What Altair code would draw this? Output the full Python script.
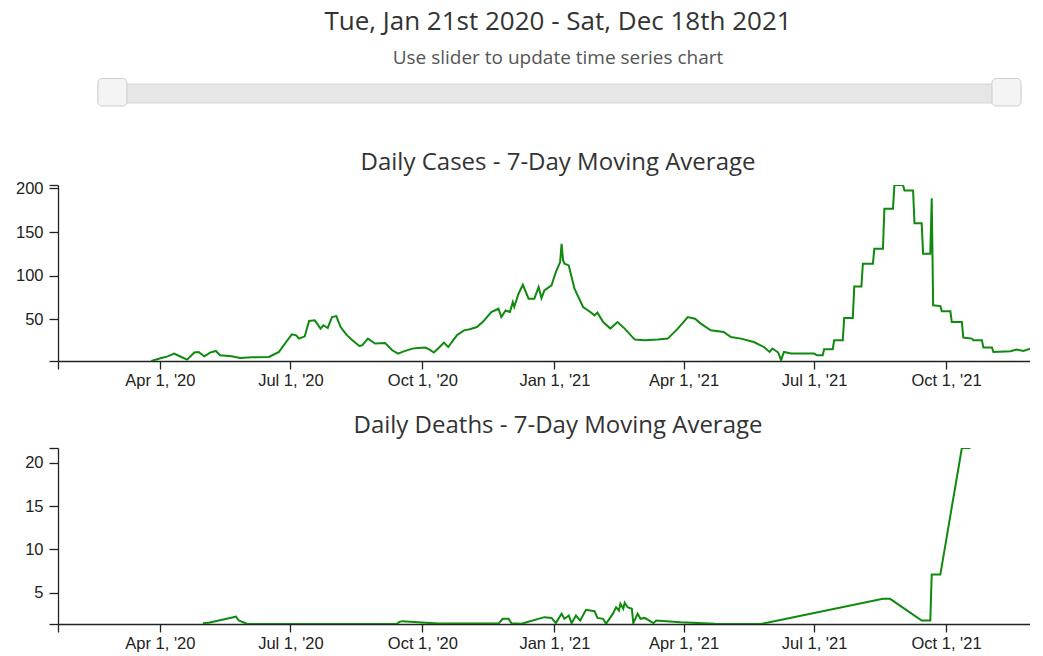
import altair as alt
import pandas as pd

# ---------------- data ----------------
START = "2020-01-21"
END = "2021-12-18"
VISIBLE_END = "2021-11-28T12:00:00"   # last date visible inside the 1043px window

# days since 2020-01-21, 7-day moving average of daily cases
cases_day = [65, 68, 72, 76, 81, 86, 90, 95, 98, 102, 106, 110, 113, 121, 127, 135, 147, 154,
             159, 163, 166, 168, 172, 175, 179, 183, 185, 188, 191, 194, 197, 201, 205, 210,
             212, 216, 221, 228, 233, 237, 241, 247, 251, 256, 259, 262, 266, 269, 272, 278,
             283, 287, 292, 296, 302, 307, 309, 312, 315, 317, 318, 321, 324, 328, 332, 335,
             337, 339, 344, 347, 350, 351, 352, 353, 356, 360, 366, 371, 374, 376, 380, 385,
             390, 395, 402, 409, 418, 425, 432, 439, 444, 448, 455, 464, 469, 476, 485, 492,
             496, 498, 502, 504, 506, 511, 520, 527, 529, 533, 534, 540, 541, 547, 548, 554,
             555, 560, 561, 568, 569, 575, 576, 582, 583, 589, 590, 596, 597, 602, 603, 608,
             609, 610, 615, 616, 622, 623, 630, 631, 637, 638, 644, 645, 651, 652, 664, 668,
             673, 678, 681, 685, 697]
cases_val = [2.0, 3.5, 5.5, 7, 10.5, 6.6, 3.6, 11.7, 12.4, 7.4, 11.7, 13.5, 8.6, 7.4, 5.5, 6.3,
             6.7, 12.4, 23.8, 32.6, 31.5, 27.7, 30.3, 47.9, 48.7, 39.2, 43, 39.9, 52.5, 53.6,
             41, 32.3, 26, 19.3, 20, 27.7, 22, 22.7, 14.3, 10.5, 13, 16.2, 17, 17.4, 15, 11.7,
             18, 23.1, 18.1, 31.5, 37.2, 38.4, 41, 46.7, 58.2, 62, 52.5, 60, 58.2, 69.6, 64,
             79.2, 89.5, 73.5, 73.5, 86.8, 74.2, 83, 88.8, 104, 115.5, 136.5, 118, 113.6,
             111.7, 85, 64, 58.2, 54.4, 57.5, 46.7, 39.2, 46.7, 39.2, 26.6, 25.8, 26.6, 27.7,
             39.2, 52.5, 50.6, 44.9, 37.2, 35.3, 29.6, 27.7, 23.8, 18.1, 12.4, 16.3, 11.7, 3,
             12.4, 10.5, 10.5, 10.5, 8.6, 8.6, 15.5, 15.5, 25.8, 25.8, 51.3, 51.3, 87.6, 87.6,
             113.6, 113.6, 130.8, 130.8, 176.6, 176.6, 204, 204, 197.6, 197.6, 160, 160, 125,
             125, 188.8, 65.9, 65, 59, 59, 46.7, 46.7, 28.9, 27.7, 25.8, 25.8, 17.4, 17.4,
             12.4, 13.2, 15.1, 13.5, 16.3, 13.5, 10.5, 10]

# days since 2020-01-21, 7-day moving average of daily deaths
deaths_day = [101, 105, 123, 124, 126, 132, 236, 238, 240, 265, 307, 310, 314, 316, 323, 339,
              344, 347, 351, 353, 356, 358, 361, 364, 368, 374, 376, 380, 382, 387, 389, 391,
              392, 394, 395, 397, 400, 401, 404, 406, 409, 415, 417, 434, 458, 490, 575, 580,
              602, 608, 609, 615, 630, 636]
deaths_val = [1.5, 1.55, 2.2, 2.27, 1.8, 1.4, 1.4, 1.65, 1.73, 1.45, 1.45, 2.0, 2.0, 1.5, 1.42,
              2.19, 2.1, 1.5, 2.58, 2.0, 2.38, 1.5, 2.38, 1.8, 3.04, 2.88, 2.1, 2.0, 1.42,
              2.65, 3.34, 2.96, 3.73, 3.15, 3.85, 3.34, 3.15, 1.5, 2.58, 2.0, 2.1, 1.5, 1.8,
              1.6, 1.42, 1.4, 4.3, 4.3, 1.8, 1.8, 7.1, 7.1, 21.7, 21.7]

x_ticks = ["2020-04-01", "2020-07-01", "2020-10-01", "2021-01-01",
           "2021-04-01", "2021-07-01", "2021-10-01"]
cases_ticks = [50, 100, 150, 200]
deaths_ticks = [5, 10, 15, 20]

# slider: handle positions as a fraction of the selected range
slider_handles = [0.0, 1.0]

TITLE = "Tue, Jan 21st 2020 - Sat, Dec 18th 2021"
SUBTITLE = "Use slider to update time series chart"
CASES_TITLE = "Daily Cases - 7-Day Moving Average"
DEATHS_TITLE = "Daily Deaths - 7-Day Moving Average"

# ---------------- build ----------------
base = pd.Timestamp(START)
cases_df = pd.DataFrame({"date": [base + pd.Timedelta(days=d) for d in cases_day],
                         "value": cases_val})
deaths_df = pd.DataFrame({"date": [base + pd.Timedelta(days=d) for d in deaths_day],
                          "value": deaths_val})


def dt(s):
    t = pd.Timestamp(s)
    return alt.DateTime(year=t.year, month=t.month, date=t.day, hours=t.hour)


x_domain = [dt(START), dt(VISIBLE_END)]
x_values = [dt(START)] + [dt(s) for s in x_ticks]

W = 972
H = 176
GREEN = "#0f8a0f"
AX = "#222222"
LABEL_FONT = "Liberation Sans"
TITLE_FONT = "Open Sans"
LABEL_SIZE = 16.5
TITLE_DX = 14

hide_first_time = ("datum.index == 0 ? '' : "
                   "timeFormat(datum.value, \"%b %-d, '%y\")")
hide_ends = "datum.index == 0 || datum.index == 1 ? '' : datum.label"


def x_axis():
    return alt.Axis(values=x_values, labelExpr=hide_first_time, grid=False,
                    title=None, tickSize=8, labelPadding=3, labelOverlap=False,
                    labelFlush=False, domainColor=AX, tickColor=AX, labelColor=AX,
                    labelFont=LABEL_FONT, labelFontSize=LABEL_SIZE, domainWidth=1.3,
                    tickWidth=1.3)


def y_axis(vals):
    return alt.Axis(values=vals, labelExpr=hide_ends, grid=False, title=None,
                    tickSize=9, labelPadding=6, labelOverlap=False, labelFlush=False,
                    domainColor=AX, tickColor=AX, labelColor=AX, labelFont=LABEL_FONT,
                    labelFontSize=LABEL_SIZE, domainWidth=1.3, tickWidth=1.3)


def series_chart(df, title, ticks):
    lo, hi = float(df["value"].min()), float(df["value"].max())
    return alt.Chart(df).mark_line(color=GREEN, strokeWidth=2, clip=True).encode(
        x=alt.X("date:T", scale=alt.Scale(domain=x_domain), axis=x_axis()),
        y=alt.Y("value:Q", scale=alt.Scale(domain=[lo, hi], zero=False, nice=False),
                axis=y_axis([lo] + ticks + [hi])),
    ).properties(
        width=W, height=H,
        title=alt.TitleParams(title, font=TITLE_FONT, fontSize=24, fontWeight="normal",
                              color="#333333", anchor="middle", offset=2, dx=TITLE_DX),
    )


cases_chart = series_chart(cases_df, CASES_TITLE, cases_ticks)
deaths_chart = series_chart(deaths_df, DEATHS_TITLE, deaths_ticks)

# slider drawn as a track and two handles
HW = 0.0314  # handle width as fraction of the track
track_df = pd.DataFrame({"lo": [slider_handles[0]], "hi": [slider_handles[1]]})
handle_df = pd.DataFrame({"lo": [slider_handles[0], slider_handles[1] - HW],
                          "hi": [slider_handles[0] + HW, slider_handles[1]]})
sx = alt.Scale(domain=[-0.0433, 1.0098], nice=False, zero=False)
track = alt.Chart(track_df).mark_rect(fill="#e6e6e6", stroke="#d6d6d6", strokeWidth=1,
                                      cornerRadius=3).encode(
    x=alt.X("lo:Q", scale=sx, axis=None), x2="hi:Q",
    y=alt.value(6), y2=alt.value(25))
handles = alt.Chart(handle_df).mark_rect(fill="#f4f4f4", stroke="#cfcfcf", strokeWidth=1,
                                         cornerRadius=4).encode(
    x=alt.X("lo:Q", scale=sx, axis=None), x2="hi:Q",
    y=alt.value(0.5), y2=alt.value(28))
slider = alt.layer(track, handles).properties(
    width=W, height=28,
    title=alt.TitleParams(TITLE, subtitle=SUBTITLE, font=TITLE_FONT, fontSize=26,
                          fontWeight="normal", color="#333333", subtitleFont=TITLE_FONT,
                          subtitleFontSize=19, subtitleColor="#555555", subtitlePadding=14,
                          anchor="middle", offset=10, dx=TITLE_DX),
)

chart = alt.vconcat(
    slider,
    alt.vconcat(cases_chart, deaths_chart, spacing=25),
    spacing=44,
).properties(
    padding={"left": 7, "top": 1, "right": 0, "bottom": 0},
    background="white",
).configure_view(stroke=None)

chart.save("out.html", embed_options={"renderer": "svg", "actions": False})
